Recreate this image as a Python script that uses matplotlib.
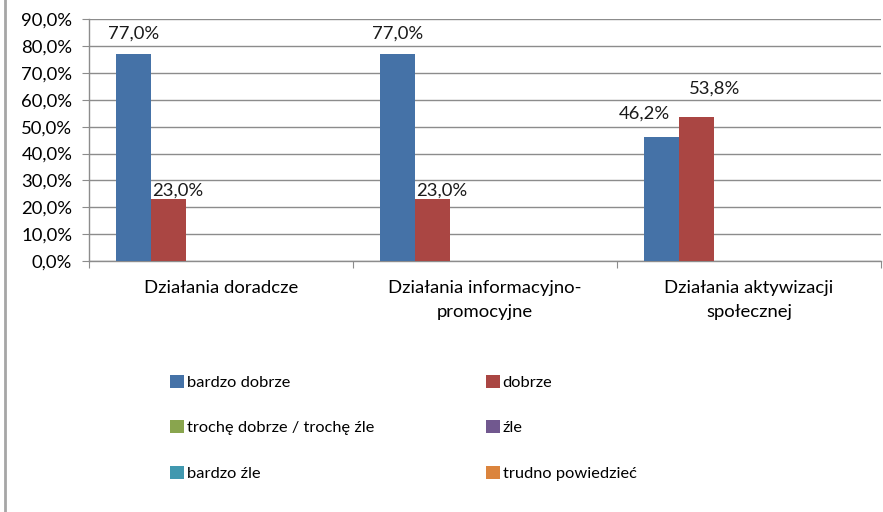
import numpy as np
import matplotlib.pyplot as plt
from matplotlib.lines import Line2D
from matplotlib.patches import Patch

plt.rcParams['font.family'] = ['Lato', 'DejaVu Sans']

categories = ['Działania doradcze', 'Działania informacyjno-\npromocyjne',
              'Działania aktywizacji\nspołecznej']
series = ['bardzo dobrze', 'dobrze', 'trochę dobrze / trochę źle', 'źle',
          'bardzo źle', 'trudno powiedzieć']
bardzo_dobrze = [77.0, 77.0, 46.2]
dobrze = [23.0, 23.0, 53.8]
troche = [0.0, 0.0, 0.0]
zle = [0.0, 0.0, 0.0]
bardzo_zle = [0.0, 0.0, 0.0]
trudno = [0.0, 0.0, 0.0]
values = [bardzo_dobrze, dobrze, troche, zle, bardzo_zle, trudno]

colors = ['#4572A7', '#AA4643', '#89A54E', '#71588F', '#4198AF', '#DB843D']
# manual label nudges (points) as in the original, per series and category
label_offsets = {
    0: [(0, 15), (0, 15), (-12, 17)],
    1: [(7, 6), (7, 6), (13, 20)],
}

fig = plt.figure(figsize=(8.83, 5.12), dpi=100)
ax = fig.add_axes([0.1008, 0.4902, 0.8969, 0.4721])

x = np.arange(len(categories))
width = 0.1326
grid_c = '#8C8C8C'
fs = 13.3
fs_leg = 11.8

for i, (name, vals) in enumerate(zip(series, values)):
    pos = x + (i - 2.5) * width
    ax.bar(pos, vals, width, color=colors[i], linewidth=0, zorder=3)
    if i in label_offsets:
        for j, v in enumerate(vals):
            dx, dy = label_offsets[i][j]
            ax.annotate(f'{v:.1f}%'.replace('.', ','), (pos[j], v),
                        xytext=(dx, dy), textcoords='offset points',
                        ha='center', va='center', fontsize=fs, color='#1a1a1a')

ax.set_xlim(-0.5, 2.5)
ax.set_ylim(0, 90)
ax.set_yticks(np.arange(0, 91, 10))
ax.set_yticklabels([f'{v:.1f}%'.replace('.', ',') for v in np.arange(0, 91, 10)])
ax.yaxis.grid(True, color=grid_c, linewidth=1.0, zorder=0)
ax.set_axisbelow(True)

ax.set_xticks([-0.5, 0.5, 1.5, 2.5])
ax.set_xticklabels([])
ax.set_xticks(x, minor=True)
ax.set_xticklabels(categories, minor=True, fontsize=fs, linespacing=1.55)
ax.tick_params(axis='x', which='minor', length=0, pad=14)
ax.tick_params(axis='x', which='major', length=5, color=grid_c, direction='out')
ax.tick_params(axis='y', length=5, color=grid_c, labelsize=fs, pad=7)

for s in ['top', 'right']:
    ax.spines[s].set_visible(False)
for s in ['left', 'bottom']:
    ax.spines[s].set_color(grid_c)
    ax.spines[s].set_linewidth(1.0)

# legend: two columns, rows filled left to right
order = [0, 2, 4, 1, 3, 5]
handles = [Patch(facecolor=colors[k], edgecolor='none') for k in order]
labels = [series[k] for k in order]
fig.legend(handles, labels, ncol=2, loc='upper left',
           bbox_to_anchor=(0.176, 0.297), frameon=False, fontsize=fs_leg,
           handlelength=0.85, handleheight=0.85, handletextpad=0.15,
           labelspacing=1.85, columnspacing=6.85)

fig.add_artist(Line2D([0.0062, 0.0062], [0, 1], color='#A6A6A6', linewidth=2.0))

fig.savefig('out.png', dpi=100)
